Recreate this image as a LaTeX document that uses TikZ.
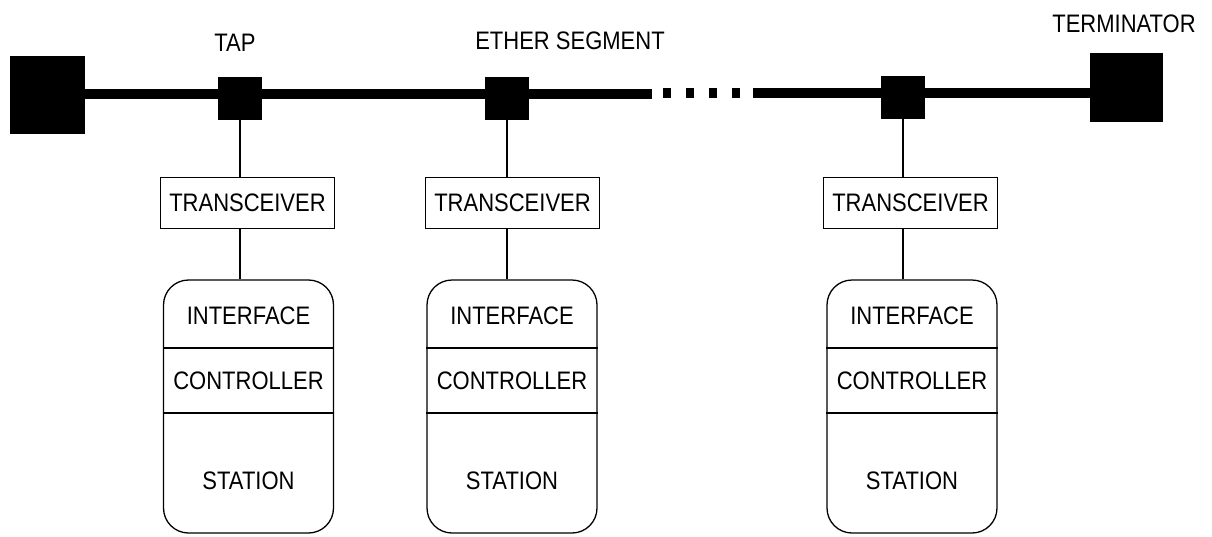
\documentclass[tikz,border=0pt]{standalone}
\usepackage{fontspec}
\setmainfont{Liberation Sans}
% slightly tall lettering
\newcommand\tallcaps[1]{\scalebox{1}[1.15]{#1}}
\begin{document}
\begin{tikzpicture}[x=1pt,y=-1pt,
  lbl/.style={inner sep=0pt,font=\fontsize{22}{24}\selectfont},
  thinline/.style={line width=1.3pt},
  bus/.style={line width=10pt},
  term/.style={fill=black,draw=none,inner sep=0pt},
  tapbox/.style={fill=black,draw=none,inner sep=0pt,minimum width=44pt,minimum height=43pt},
  xcvr/.style={draw,thinline,inner sep=0pt,minimum height=51pt,font=\fontsize{22}{24}\selectfont},
  station/.style={draw,thinline,rounded corners=25pt,minimum width=170pt,minimum height=253pt,inner sep=0pt}
]
\useasboundingbox (0,0) rectangle (1212,536);

% terminators at both ends of the ether
\node[term,minimum width=75pt,minimum height=78pt] (lt) at (47.5,95) {};
\node[term,minimum width=73pt,minimum height=69pt] (rt) at (1126.5,87.5) {};

% ether cable with a gap of dots
\coordinate (gapL) at (652,94);
\coordinate (gapR) at (753,93);
\coordinate (dotL) at (663,93);
\coordinate (dotR) at (741,93);
\draw[bus] (lt.east |- gapL) -- (gapL);
\draw[bus] (gapR) -- (rt.west |- gapR);
\draw[bus,dash pattern=on 8pt off 15pt] (dotL) -- (dotR);

% labels above the cable
\node[lbl] (taplbl) at (235,43) {\tallcaps{TAP}};
\node[lbl] (seglbl) at (570,41) {\tallcaps{ETHER SEGMENT}};
\node[lbl] (termlbl) at (1124,24) {\tallcaps{TERMINATOR}};

% one station per tap
\foreach \i/\tx/\ty/\bx/\sx in {1/240/98/247.5/248.5, 2/507/98/512.5/512, 3/903/97/910.5/912} {
  \node[tapbox] (tap\i) at (\tx,\ty) {};
  \node[xcvr,minimum width=174pt] (tr\i) at (\bx,203) {\tallcaps{TRANSCEIVER}};
  \node[station] (st\i) at (\sx,406.5) {};
  \draw[thinline] (st\i.west |- 0,348) -- (st\i.east |- 0,348);
  \draw[thinline] (st\i.west |- 0,413) -- (st\i.east |- 0,413);
  \node[lbl] (if\i) at (\sx,316) {\tallcaps{INTERFACE}};
  \node[lbl] (ct\i) at (\sx,381) {\tallcaps{CONTROLLER}};
  \node[lbl] (sn\i) at (\sx,481) {\tallcaps{STATION}};
  \draw[thinline] (tap\i.south) -- (tap\i.south |- tr\i.north);
  \draw[thinline] (tap\i.south |- tr\i.south) -- (tap\i.south |- st\i.north);
}
\end{tikzpicture}
\end{document}
